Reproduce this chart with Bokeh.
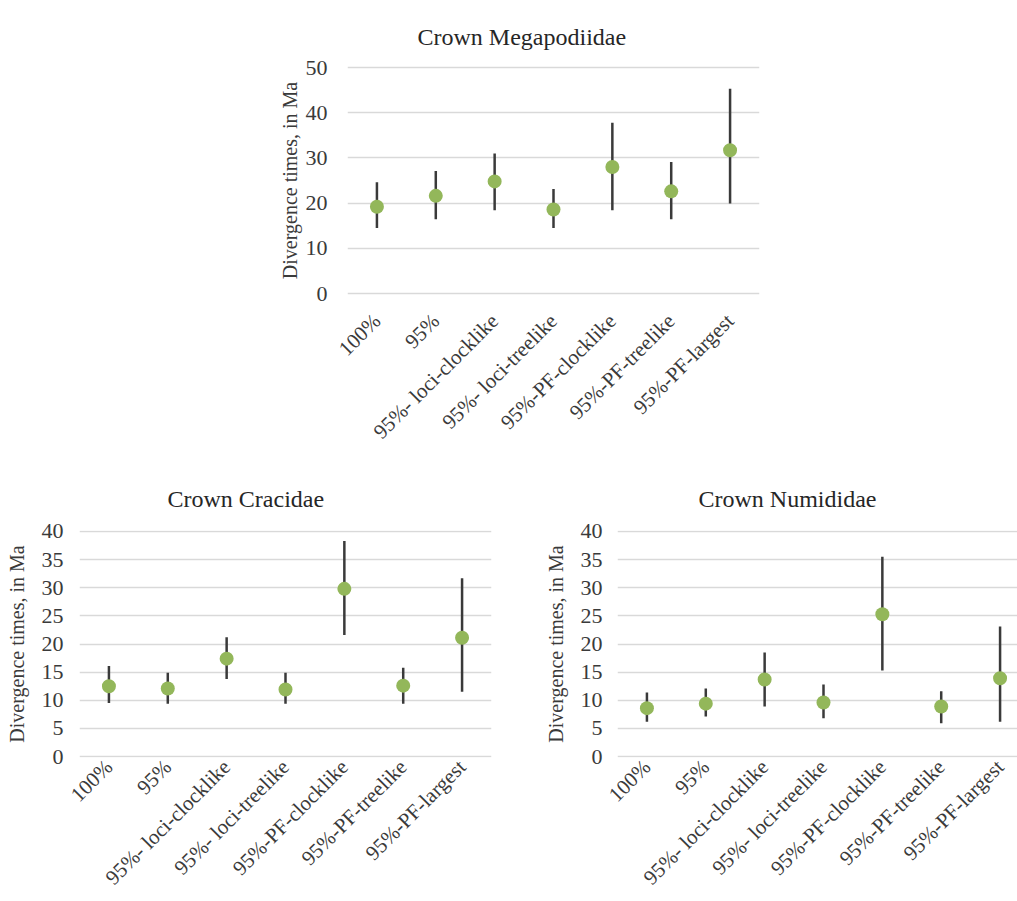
import math
from bokeh.plotting import figure
from bokeh.models import ColumnDataSource, Range1d, FixedTicker, Spacer, Title
from bokeh.layouts import column, row
from bokeh.embed import file_html
from bokeh.resources import INLINE

categories = ["100%", "95%", "95%- loci-clocklike", "95%- loci-treelike",
              "95%-PF-clocklike", "95%-PF-treelike", "95%-PF-largest"]

mega_mid = [19.2, 21.6, 24.8, 18.6, 28.0, 22.6, 31.7]
mega_lo = [14.5, 16.4, 18.4, 14.5, 18.4, 16.4, 19.9]
mega_hi = [24.6, 27.1, 31.0, 23.1, 37.8, 29.1, 45.3]

crac_mid = [12.5, 12.1, 17.4, 11.9, 29.8, 12.6, 21.1]
crac_lo = [9.5, 9.4, 13.8, 9.4, 21.6, 9.4, 11.5]
crac_hi = [16.1, 14.9, 21.2, 14.9, 38.3, 15.8, 31.7]

numi_mid = [8.6, 9.4, 13.7, 9.6, 25.3, 8.9, 13.9]
numi_lo = [6.2, 7.1, 8.9, 6.8, 15.3, 5.9, 6.2]
numi_hi = [11.4, 12.1, 18.5, 12.8, 35.5, 11.6, 23.1]

FONT = "Liberation Serif"
GREEN = "#93B75A"
TEXT = "#3A3A3A"
CW = 412 / 7          # pixels per category slot
FH = 226              # pixels from 0 gridline to top gridline


def chart(title, mid, lo, hi, ymax, ystep, bl, br, bt, bb, fw, pad_px,
          title_offset, title_standoff, ylabel_standoff, tick_standoff,
          cat_standoff):
    n = len(categories)
    xs = [i + 0.5 for i in range(n)]
    k = FH / ymax
    pad = pad_px / k
    src = ColumnDataSource(dict(x=xs, mid=mid, lo=lo, hi=hi, cat=categories))
    p = figure(width=bl + fw + br, height=bt + FH + 2 * pad_px + bb,
               x_range=Range1d(0, fw / CW), y_range=Range1d(-pad, ymax + pad),
               output_backend="svg", toolbar_location=None,
               min_border_left=bl, min_border_right=br,
               min_border_top=bt, min_border_bottom=bb, title=None)
    p.outline_line_color = None
    p.background_fill_color = "white"
    p.border_fill_color = "white"

    p.add_layout(Title(text=title, text_font=FONT, text_font_size="24px",
                       text_font_style="normal", text_color="#262626",
                       align="left", offset=title_offset,
                       standoff=title_standoff), "above")

    p.segment(x0="x", y0="lo", x1="x", y1="hi", source=src,
              line_color="#3A3A3A", line_width=2.5)
    p.scatter(x="x", y="mid", source=src, size=14, fill_color=GREEN,
              line_color=None)

    p.xgrid.visible = False
    p.ygrid.grid_line_color = "#D9D9D9"
    p.ygrid.grid_line_width = 1.6

    ya = p.left[0]
    ya.ticker = FixedTicker(ticks=list(range(0, ymax + 1, ystep)))
    ya.axis_line_color = None
    ya.major_tick_line_color = None
    ya.minor_tick_line_color = None
    ya.major_label_text_font = FONT
    ya.major_label_text_font_size = "22px"
    ya.major_label_text_color = TEXT
    ya.major_label_standoff = tick_standoff
    ya.axis_label = "Divergence times, in Ma"
    ya.axis_label_text_font = FONT
    ya.axis_label_text_font_size = "20px"
    ya.axis_label_text_font_style = "normal"
    ya.axis_label_text_color = TEXT
    ya.axis_label_standoff = ylabel_standoff

    xa = p.below[0]
    xa.ticker = FixedTicker(ticks=xs)
    xa.major_label_overrides = {x: c for x, c in zip(xs, categories)}
    xa.axis_line_color = None
    xa.major_tick_line_color = None
    xa.minor_tick_line_color = None
    xa.major_label_orientation = math.pi / 4
    xa.major_label_text_font = FONT
    xa.major_label_text_font_size = "21px"
    xa.major_label_text_line_height = 1.0
    xa.major_label_text_color = TEXT
    xa.major_label_standoff = cat_standoff
    return p


p1 = chart("Crown Megapodiidae", mega_mid, mega_lo, mega_hi, 50, 10,
           77, 10, 65, 163, 412, 2, 70, 32, 2, 14, 16)
p2 = chart("Crown Cracidae", crac_mid, crac_lo, crac_hi, 40, 5,
           79, 49, 72, 142, 412, 1, 88, 38, 11, 10, 0)
p3 = chart("Crown Numididae", numi_mid, numi_lo, numi_hi, 40, 5,
           77, 0, 72, 142, 400, 1, 81, 38, 11, 9, 0)

layout = column(row(Spacer(width=270, height=10), p1), row(p2, p3))
open("out.html", "w").write(file_html(layout, INLINE))
